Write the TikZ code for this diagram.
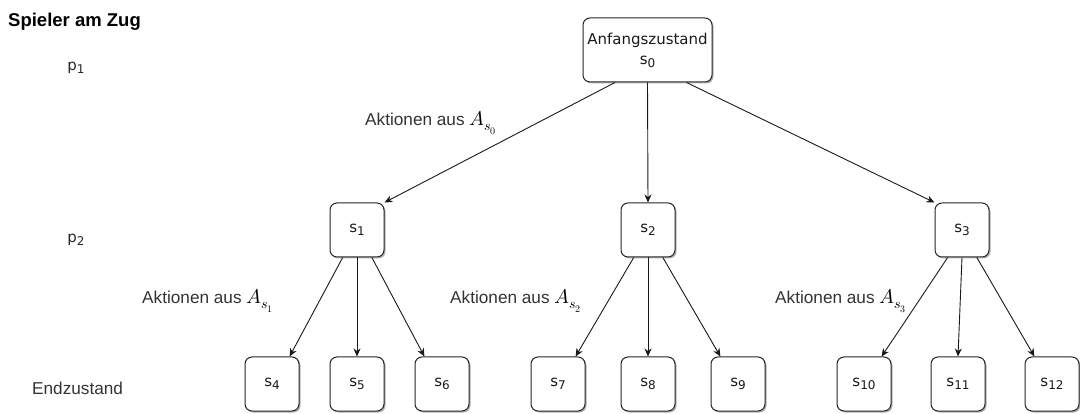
\documentclass[tikz,border=0pt]{standalone}
\usepackage{fontspec}
\usepackage{unicode-math}
\setmainfont{Liberation Sans}
\setmathfont{Latin Modern Math}
\newfontfamily\boxfont{DejaVu Sans}
\usetikzlibrary{shadows,arrows.meta,calc}
% lowered index in the box font
\newcommand\idx[1]{\raisebox{-0.35ex}{\fontsize{12}{12}\selectfont #1}}

\begin{document}
\begin{tikzpicture}[x=1pt,y=-1pt,
  state/.style={draw=black!85, line width=1pt, rounded corners=7pt, fill=white,
    minimum width=54pt, minimum height=54pt, inner sep=0pt,
    font=\boxfont\fontsize{15}{20}\selectfont, text=black!90, align=center,
    drop shadow={shadow xshift=1.5pt, shadow yshift=-1.5pt, opacity=0.3, fill=black}},
  edge/.style={draw=black!90, line width=0.9pt, -{Stealth[length=8pt,width=7pt,inset=2.5pt]}},
  lab/.style={inner sep=0pt, text=black!80, font=\fontsize{17.2}{20}\selectfont},
  player/.style={inner sep=0pt, text=black!85, font=\boxfont\fontsize{15}{18}\selectfont}]

\useasboundingbox (0,0) rectangle (1080,414);

% column of players to move
\node[lab, anchor=base west, font=\bfseries\fontsize{18.5}{20}\selectfont, text=black] (title) at (8,27) {Spieler am Zug};
\node[player] (p1) at (76,68) {p\idx{1}};
\node[player] (p2) at (76,240) {p\idx{2}};
\node[lab, anchor=base west] (end) at (32,395) {Endzustand};

% root
\node[state, minimum width=129pt, minimum height=64pt] (root) at (647.5,50) {Anfangszustand\\s\idx{0}};

% second level
\node[state] (s1) at (357,230) {s\idx{1}};
\node[state] (s2) at (648,230) {s\idx{2}};
\node[state] (s3) at (962,230) {s\idx{3}};

% leaves
\node[state] (s4)  at (272,384)  {s\idx{4}};
\node[state] (s5)  at (357,384)  {s\idx{5}};
\node[state] (s6)  at (442,384)  {s\idx{6}};
\node[state] (s7)  at (558,384)  {s\idx{7}};
\node[state] (s8)  at (648,384)  {s\idx{8}};
\node[state] (s9)  at (738,384)  {s\idx{9}};
\node[state] (s10) at (864,384)  {s\idx{10}};
\node[state] (s11) at (958,384)  {s\idx{11}};
\node[state] (s12) at (1052,384) {s\idx{12}};

% action labels
\newcommand\act[1]{Aktionen aus {\color{black}\fontsize{20}{22}\selectfont$A_{s_{#1}}$}}
\node[lab, anchor=base west] (a0) at (365,126) {\act{0}};
\node[lab, anchor=base west] (a1) at (142,304) {\act{1}};
\node[lab, anchor=base west] (a2) at (450,304) {\act{2}};
\node[lab, anchor=base west] (a3) at (775,304) {\act{3}};

% edges from the root
\draw[edge] ($(root.south west)!0.25!(root.south east)$) -- (s1.north east);
\draw[edge] (root.south) -- (s2.north);
\draw[edge] ($(root.south west)!0.8!(root.south east)$) -- (s3.north west);

% edges to the leaves
\foreach \p/\l/\m/\r in {s1/s4/s5/s6, s2/s7/s8/s9, s3/s10/s11/s12}{
  \draw[edge] ($(\p.south west)!0.24!(\p.south east)$) -- ($(\l.north west)!0.82!(\l.north east)$);
  \draw[edge] (\p.south) -- (\m.north);
  \draw[edge] ($(\p.south west)!0.77!(\p.south east)$) -- ($(\r.north west)!0.18!(\r.north east)$);
}
\end{tikzpicture}
\end{document}
